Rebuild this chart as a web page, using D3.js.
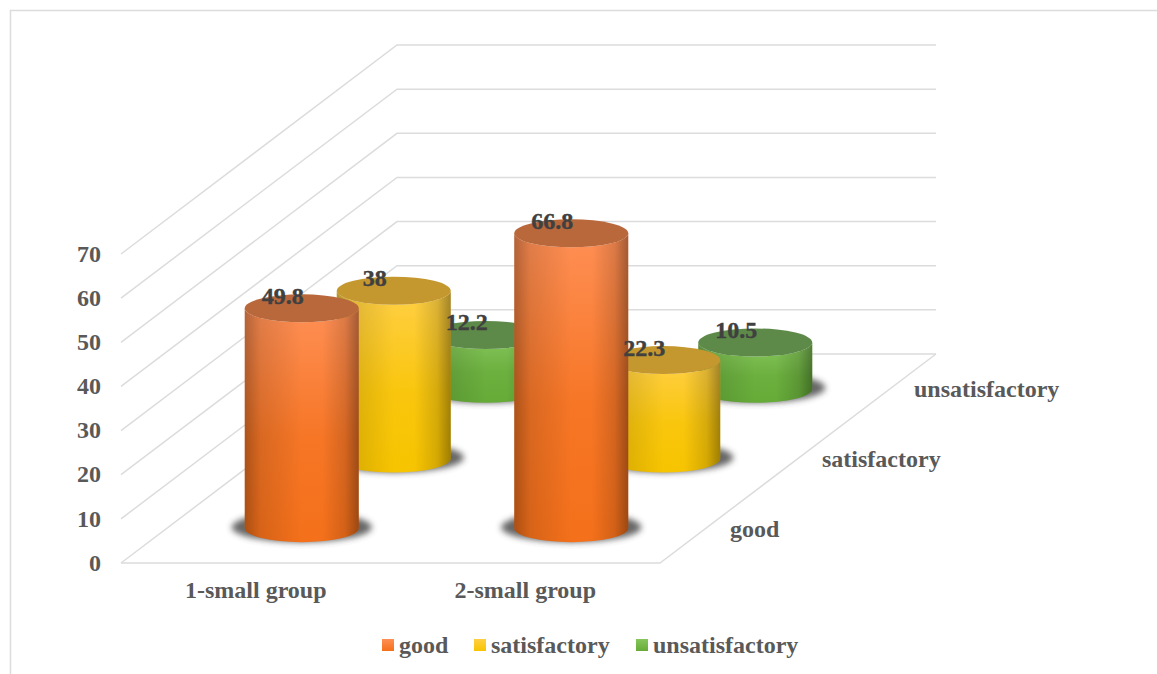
<!DOCTYPE html>
<html>
<head>
<meta charset="utf-8">
<script src="https://cdn.jsdelivr.net/npm/d3@7"></script>
<style>
body { margin: 0; background: #fff; }
text { font-family: "Liberation Serif", serif; font-weight: bold; }
</style>
</head>
<body>
<div id="chart"></div>
<script>
const groups = ["1-small group", "2-small group"];
const grades = ["good", "satisfactory", "unsatisfactory"];
const good = [49.8, 66.8];
const satisfactory = [38, 22.3];
const unsatisfactory = [12.2, 10.5];
const valueTicks = [0, 10, 20, 30, 40, 50, 60, 70];
const seriesValues = [good, satisfactory, unsatisfactory];

const sideTop = ["#ff8f55", "#ffcf45", "#86c65c"];
const sideBottom = ["#f4701a", "#f7c400", "#66ab38"];
const capColors = ["#b9683c", "#c4982e", "#5d8a48"];

const svg = d3.select("#chart").append("svg").attr("width", 1157).attr("height", 674);
const defs = svg.append("defs");

// floor corners: front edge y 563, x 121..660, going back by (276, -209)
const x = d3.scaleBand().domain(groups).range([121, 660]);
const z = d3.scaleBand().domain(grades).range([0, 1]);
const y = d3.scaleLinear().domain([0, 70]).range([563, 254]);
const depthX = 276, depthY = 209;
const rx = 57, ry = 14;
const fontSize = 24;

// project a (front x, depth, value) onto the page
const px = (fx, d) => fx + d * depthX;
const py = (v, d) => y(v) - d * depthY;

// chart frame
svg.append("path").attr("d", "M10.5,674V10.5H1157").attr("fill", "none").attr("stroke", "#dcdcdc").attr("stroke-width", 1.5);

// gradients
grades.forEach((g, i) => {
    const lg = defs.append("linearGradient").attr("id", `side${i}`).attr("x1", 0).attr("y1", 0).attr("x2", 0).attr("y2", 1);
    lg.append("stop").attr("offset", "0%").attr("stop-color", sideTop[i]);
    lg.append("stop").attr("offset", "55%").attr("stop-color", d3.interpolateRgb(sideTop[i], sideBottom[i])(0.8));
    lg.append("stop").attr("offset", "100%").attr("stop-color", sideBottom[i]);
    const sw = defs.append("linearGradient").attr("id", `swatch${i}`).attr("x1", 0).attr("y1", 0).attr("x2", 0).attr("y2", 1);
    sw.append("stop").attr("offset", "0%").attr("stop-color", sideTop[i]);
    sw.append("stop").attr("offset", "100%").attr("stop-color", sideBottom[i]);
});
const shade = defs.append("linearGradient").attr("id", "shade");
[[0, 0.3], [0.14, 0.12], [0.5, 0], [0.68, 0], [0.88, 0.14], [1, 0.36]].forEach(s => {
    shade.append("stop").attr("offset", s[0]).attr("stop-color", "#000").attr("stop-opacity", s[1]);
});
defs.append("filter").attr("id", "blur").attr("x", "-20%").attr("y", "-50%").attr("width", "140%").attr("height", "200%")
    .append("feGaussianBlur").attr("stdDeviation", 3);

// gridlines on the two walls
const grid = svg.append("g").attr("fill", "none").attr("stroke", "#dcdcdc").attr("stroke-width", 1.5);
grid.selectAll("path").data(valueTicks).join("path")
    .attr("d", v => d3.line()([[121, y(v)], [px(121, 1), py(v, 1)], [px(660, 1), py(v, 1)]]));
grid.append("path").attr("d", d3.line()([[121, y(0)], [660, y(0)], [px(660, 1), py(0, 1)]]));

// value axis
const yAxis = svg.append("g").attr("transform", "translate(121,0)")
    .call(d3.axisLeft(y).tickValues(valueTicks).tickSize(0).tickPadding(20));
yAxis.select(".domain").remove();
yAxis.selectAll("text").attr("font-size", fontSize).attr("font-family", "Liberation Serif").attr("fill", "#595959").attr("dy", "0.3em");

// group axis
const xAxis = svg.append("g").attr("transform", "translate(0,563)")
    .call(d3.axisBottom(x).tickSize(0).tickPadding(18));
xAxis.select(".domain").remove();
xAxis.selectAll("text").attr("font-size", fontSize).attr("font-family", "Liberation Serif").attr("fill", "#595959");

// depth axis
svg.append("g").selectAll("text").data(grades).join("text")
    .attr("x", g => px(660, z(g) + z.bandwidth() / 2) + 24)
    .attr("y", g => py(0, z(g) + z.bandwidth() / 2) + 3)
    .attr("font-size", fontSize).attr("fill", "#595959").attr("dominant-baseline", "middle")
    .text(g => g);

// cylinders, back row first
const bars = [];
grades.forEach((g, i) => groups.forEach((c, j) => bars.push({ g, c, i, v: seriesValues[i][j] })));
bars.sort((a, b) => b.i - a.i);

svg.append("g").selectAll("g").data(bars).join("g").each(function (b) {
    const d = z(b.g) + z.bandwidth() / 2;
    const cx = px(x(b.c) + x.bandwidth() / 2, d);
    const y0 = py(0, d), y1 = py(b.v, d);
    const s = d3.select(this);
    const body = `M${cx - rx},${y1}V${y0}A${rx},${ry} 0 0 0 ${cx + rx},${y0}V${y1}A${rx},${ry} 0 0 1 ${cx - rx},${y1}Z`;
    s.append("ellipse").attr("cx", cx).attr("cy", y0 - 1).attr("rx", rx + 13).attr("ry", ry + 1)
        .attr("fill", "#404040").attr("opacity", 0.8).attr("filter", "url(#blur)");
    s.append("path").attr("d", body).attr("fill", `url(#side${b.i})`);
    s.append("path").attr("d", body).attr("fill", "url(#shade)");
    s.append("ellipse").attr("cx", cx).attr("cy", y1).attr("rx", rx).attr("ry", ry).attr("fill", capColors[b.i]);
});

// data labels sit above every cylinder
svg.append("g").selectAll("text").data(bars).join("text")
    .attr("x", b => px(x(b.c) + x.bandwidth() / 2, z(b.g) + z.bandwidth() / 2) - 19)
    .attr("y", b => py(b.v, z(b.g) + z.bandwidth() / 2) - 10)
    .attr("font-size", fontSize).attr("fill", "#404040").attr("stroke", "#404040").attr("stroke-width", 0.4)
    .attr("text-anchor", "middle").attr("dominant-baseline", "middle")
    .text(b => b.v);

// legend
const legendX = d3.scaleOrdinal().domain(grades).range([382, 474, 636]);
const legend = svg.append("g").selectAll("g").data(grades).join("g")
    .attr("transform", g => `translate(${legendX(g)},639)`);
legend.append("rect").attr("width", 12).attr("height", 12).attr("fill", (g, i) => `url(#swatch${i})`);
legend.append("text").attr("x", 17).attr("y", 14).attr("font-size", fontSize).attr("fill", "#595959").text(g => g);
</script>
</body>
</html>
